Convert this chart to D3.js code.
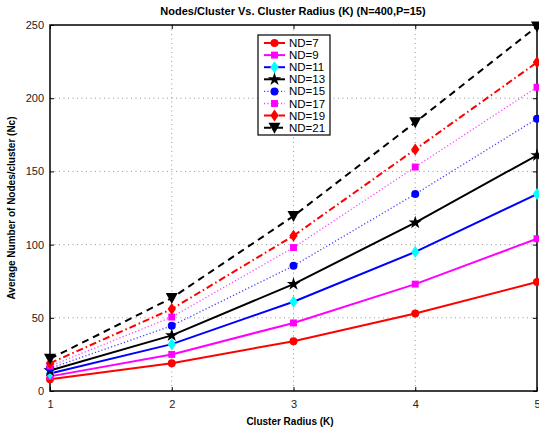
<!DOCTYPE html>
<html><head><meta charset="utf-8">
<script src="https://cdn.jsdelivr.net/npm/d3@7"></script>
<style>body{margin:0;background:#fff;}svg{display:block;font-family:"Liberation Sans",Arial,sans-serif;}</style>
</head><body><svg id="c" width="539" height="435"></svg>
<script>
const xValues = [1, 2, 3, 4, 5];
const seriesNames = ["ND=7","ND=9","ND=11","ND=13","ND=15","ND=17","ND=19","ND=21"];
const nd7  = [8, 19, 34, 53, 74.5];
const nd9  = [10, 25, 46.5, 73, 104];
const nd11 = [12, 32, 61, 95, 134.5];
const nd13 = [14, 38, 73, 115, 161];
const nd15 = [15.5, 44.5, 85.5, 134.5, 186];
const nd17 = [17, 50.5, 98, 153, 207.5];
const nd19 = [19, 56, 106, 165, 224.5];
const nd21 = [22, 63.5, 119.5, 183.5, 249];
const xTicks = [1, 2, 3, 4, 5];
const yTicks = [0, 50, 100, 150, 200, 250];

const seriesValues = [nd7, nd9, nd11, nd13, nd15, nd17, nd19, nd21];
const styles = [
  {line:"#ff0000", fill:"#ff0000", dash:null, w:2, sym:"circle"},
  {line:"#ff00ff", fill:"#ff00ff", dash:null, w:2, sym:"square"},
  {line:"#0000ff", fill:"#00ffff", dash:null, w:2, sym:"diamond"},
  {line:"#000000", fill:"#000000", dash:null, w:2, sym:"star"},
  {line:"#0000ff", fill:"#0000ff", dash:"1.2,2.2", w:1.3, sym:"circle", op:0.75},
  {line:"#ff00ff", fill:"#ff00ff", dash:"1.2,2.2", w:1.3, sym:"square", op:0.75},
  {line:"#ff0000", fill:"#ff0000", dash:"7,3,1.5,3", w:2, sym:"diamond"},
  {line:"#000000", fill:"#000000", dash:"7,5", w:2, sym:"tri"}
];

const svg = d3.select("#c");
const L = 50, R = 537, T = 25, B = 391;
const x = d3.scaleLinear().domain([1,5]).range([L,R]);
const y = d3.scaleLinear().domain([0,250]).range([B,T]);

// grid
const g = svg.append("g");
g.selectAll(".gx").data(xTicks.slice(1,-1)).enter().append("line")
  .attr("x1",d=>x(d)).attr("x2",d=>x(d)).attr("y1",T).attr("y2",B)
  .attr("stroke","#999").attr("stroke-width",1).attr("stroke-dasharray","1,3.5");
g.selectAll(".gy").data(yTicks.slice(1,-1)).enter().append("line")
  .attr("y1",d=>y(d)).attr("y2",d=>y(d)).attr("x1",L).attr("x2",R)
  .attr("stroke","#999").attr("stroke-width",1).attr("stroke-dasharray","1,3.5");

// axes
const xa = svg.append("g").attr("transform",`translate(0,${B})`)
  .call(d3.axisBottom(x).tickValues(xTicks).tickSize(-4).tickPadding(9).tickFormat(d3.format("d")));
const ya = svg.append("g").attr("transform",`translate(${L},0)`)
  .call(d3.axisLeft(y).tickValues(yTicks).tickSize(-4).tickPadding(6));
svg.append("g").attr("transform",`translate(0,${T})`)
  .call(d3.axisTop(x).tickValues(xTicks).tickSize(-4).tickFormat(""));
svg.append("g").attr("transform",`translate(${R},0)`)
  .call(d3.axisRight(y).tickValues(yTicks).tickSize(-4).tickFormat(""));
svg.selectAll(".domain").remove();
svg.selectAll(".tick line").attr("stroke","#000");
svg.selectAll(".tick text").attr("font-size",11).attr("fill","#222").attr("font-family","Liberation Sans, Arial, sans-serif");
xa.selectAll(".tick text").filter(d=>d===5).attr("text-anchor","end").attr("dx","3");
svg.append("rect").attr("x",L).attr("y",T).attr("width",R-L).attr("height",B-T)
  .attr("fill","none").attr("stroke","#000").attr("stroke-width",1.5);

function sym(s){
  if(s==="circle") return d3.symbol(d3.symbolCircle, 50)();
  if(s==="square") return d3.symbol(d3.symbolSquare, 48)();
  if(s==="diamond") return "M0,-6L4.2,0L0,6L-4.2,0Z";
  if(s==="star") return d3.symbol(d3.symbolStar, 55)();
  if(s==="tri") return "M-6,-5L6,-5L0,6Z";
}

const line = d3.line().x((d,i)=>x(xValues[i])).y(d=>y(d));
const plot = svg.append("g");
seriesValues.forEach((vals,k)=>{
  const st = styles[k];
  plot.append("path").datum(vals).attr("d",line).attr("fill","none")
    .attr("stroke",st.line).attr("stroke-width",st.w).attr("stroke-dasharray",st.dash)
    .attr("stroke-opacity",st.op||1);
  plot.selectAll(null).data(vals).enter().append("path")
    .attr("d",sym(st.sym)).attr("transform",(d,i)=>`translate(${x(xValues[i])},${y(d)})`)
    .attr("fill",st.fill);
});

// legend
const lg = svg.append("g");
lg.append("rect").attr("x",258).attr("y",35).attr("width",72).attr("height",100)
  .attr("fill","#fff").attr("stroke","#000").attr("stroke-width",1.2);
seriesNames.forEach((n,k)=>{
  const st = styles[k];
  const yy = 43 + k*12.1;
  lg.append("line").attr("x1",264).attr("x2",285).attr("y1",yy).attr("y2",yy)
    .attr("stroke",st.line).attr("stroke-width",st.w).attr("stroke-dasharray",st.dash).attr("stroke-opacity",st.op||1);
  lg.append("path").attr("d",sym(st.sym)).attr("transform",`translate(274.5,${yy})`).attr("fill",st.fill);
  lg.append("text").attr("x",289).attr("y",yy+4).attr("font-size",11.5).attr("fill","#000").text(n);
});

svg.append("text").attr("x",293).attr("y",15).attr("text-anchor","middle")
  .attr("font-size",11).attr("font-weight","bold").text("Nodes/Cluster Vs. Cluster Radius (K) (N=400,P=15)");
svg.append("text").attr("x",290).attr("y",425).attr("text-anchor","middle")
  .attr("font-size",10).attr("font-weight","bold").text("Cluster Radius (K)");
svg.append("text").attr("transform","translate(15,208) rotate(-90)").attr("text-anchor","middle")
  .attr("font-size",10).attr("font-weight","bold").text("Average Number of Nodes/cluster (Nc)");
</script></body></html>
